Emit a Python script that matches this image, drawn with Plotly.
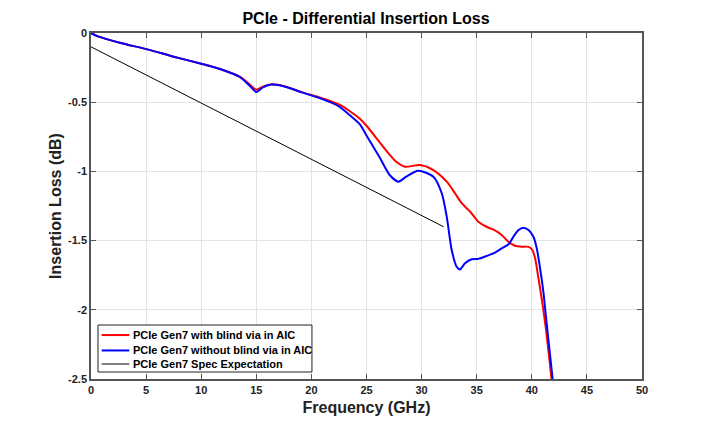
import plotly.graph_objects as go

# Data
red_freq = [0, 0.63, 2.6, 5.2, 7.5, 10, 11.7, 13.5, 14.4, 15.0, 15.6, 16.4, 17.7, 19.2, 20.8, 21.7,
            22.6, 23.5, 24.4, 25.0, 26.2, 27.0, 27.7, 28.5, 29.86, 31.07, 32.28, 33.03, 33.64, 34.4,
            35.15, 35.9, 36.66, 37.27, 37.87, 38.48, 39.08, 39.7, 40.05, 40.3, 40.6, 40.9, 41.3,
            41.8, 42.1]
red_loss = [0, -0.024, -0.07, -0.12, -0.171, -0.222, -0.26, -0.316, -0.372, -0.41, -0.388, -0.371,
            -0.388, -0.429, -0.467, -0.49, -0.52, -0.565, -0.62, -0.67, -0.79, -0.87, -0.93, -0.966,
            -0.954, -0.99, -1.074, -1.158, -1.23, -1.29, -1.363, -1.4, -1.426, -1.46, -1.508,
            -1.537, -1.544, -1.545, -1.568, -1.628, -1.77, -1.92, -2.15, -2.507, -2.72]

blue_freq = [0, 0.63, 2.6, 5.2, 7.5, 10, 11.7, 13.5, 14.4, 15.0, 15.6, 16.4, 17.7, 19.2, 20.8, 21.7,
             22.6, 23.5, 24.4, 25.0, 26.2, 27.1, 27.9, 28.6, 29.7, 31.07, 31.83, 32.28, 32.73,
             33.19, 33.49, 33.94, 34.55, 35.15, 35.9, 36.66, 37.27, 37.9, 38.33, 38.8, 39.24, 39.7,
             40.15, 40.45, 40.75, 41.05, 41.35, 41.9, 42.2]
blue_loss = [0, -0.024, -0.07, -0.12, -0.171, -0.222, -0.26, -0.318, -0.382, -0.426, -0.393, -0.373,
             -0.39, -0.431, -0.472, -0.5, -0.535, -0.595, -0.66, -0.74, -0.9, -1.026, -1.074,
             -1.038, -0.995, -1.038, -1.158, -1.327, -1.568, -1.69, -1.708, -1.664, -1.635,
             -1.632, -1.611, -1.587, -1.556, -1.527, -1.472, -1.424, -1.407, -1.424, -1.472,
             -1.556, -1.70, -1.87, -2.1, -2.507, -2.72]

spec_freq = [0, 32]
spec_loss = [-0.1, -1.4]

series_names = ["PCIe Gen7 with blind via in AIC",
                "PCIe Gen7 without blind via in AIC",
                "PCIe Gen7 Spec Expectation"]
legend_colors = ["#ff0000", "#0000ff", "#808080"]

x_ticks = [0, 5, 10, 15, 20, 25, 30, 35, 40, 45, 50]
y_ticks = [0, -0.5, -1, -1.5, -2, -2.5]
y_tick_text = ["0", "-0.5", "-1", "-1.5", "-2", "-2.5"]

FONT = "Arial, Liberation Sans, sans-serif"

fig = go.Figure()
fig.add_trace(go.Scatter(x=red_freq, y=red_loss, mode="lines", name=series_names[0],
                         line=dict(color="#ff0000", width=2, shape="spline", smoothing=0.7)))
fig.add_trace(go.Scatter(x=blue_freq, y=blue_loss, mode="lines", name=series_names[1],
                         line=dict(color="#0000ff", width=2, shape="spline", smoothing=0.7)))
fig.add_trace(go.Scatter(x=spec_freq, y=spec_loss, mode="lines", name=series_names[2],
                         line=dict(color="#000000", width=1)))

axis_common = dict(
    showgrid=True, gridcolor="#e3e3e3", gridwidth=1,
    showline=True, linecolor="#555555", linewidth=1.5, mirror="ticks",
    ticks="inside", ticklen=5, tickcolor="#555555", tickwidth=1,
    zeroline=False, automargin=False,
    tickfont=dict(family=FONT, size=11, color="#222222", weight="bold"),
)

# Legend box drawn in the plot's paper coordinates (matches MATLAB-style compact legend)
shapes = [dict(type="rect", xref="paper", yref="paper", x0=0.0127, x1=0.401, y0=0.0202, y1=0.156,
               line=dict(color="#222222", width=1), fillcolor="white", layer="above")]
annotations = []
row_y = [0.127, 0.0825, 0.0434]
for name, col, yy in zip(series_names, legend_colors, row_y):
    shapes.append(dict(type="line", xref="paper", yref="paper", x0=0.0194, x1=0.0695, y0=yy, y1=yy,
                       line=dict(color=col, width=2), layer="above"))
    annotations.append(dict(text="<b>" + name + "</b>", xref="paper", yref="paper", x=0.0735, y=yy,
                            xanchor="left", yanchor="middle", showarrow=False,
                            font=dict(family=FONT, size=11, color="#000000")))

fig.update_layout(
    width=702, height=419,
    margin=dict(l=83, r=68, t=25, b=48),
    paper_bgcolor="white", plot_bgcolor="white",
    title=dict(text="<b>PCIe - Differential Insertion Loss</b>", x=0.51, xanchor="center",
               y=0.976, yanchor="middle",
               font=dict(family=FONT, size=16, color="#000000")),
    xaxis=dict(range=[0, 50], tickvals=x_ticks,
               title=dict(text="<b>Frequency (GHz)</b>", standoff=7,
                          font=dict(family=FONT, size=16, color="#222222")),
               **axis_common),
    yaxis=dict(range=[-2.5, 0], tickvals=y_ticks, ticktext=y_tick_text,
               title=dict(text="<b>Insertion Loss (dB)</b>", standoff=2,
                          font=dict(family=FONT, size=16, color="#222222")),
               **axis_common),
    shapes=shapes,
    annotations=annotations,
    showlegend=False,
)

fig.write_html("out.html")
